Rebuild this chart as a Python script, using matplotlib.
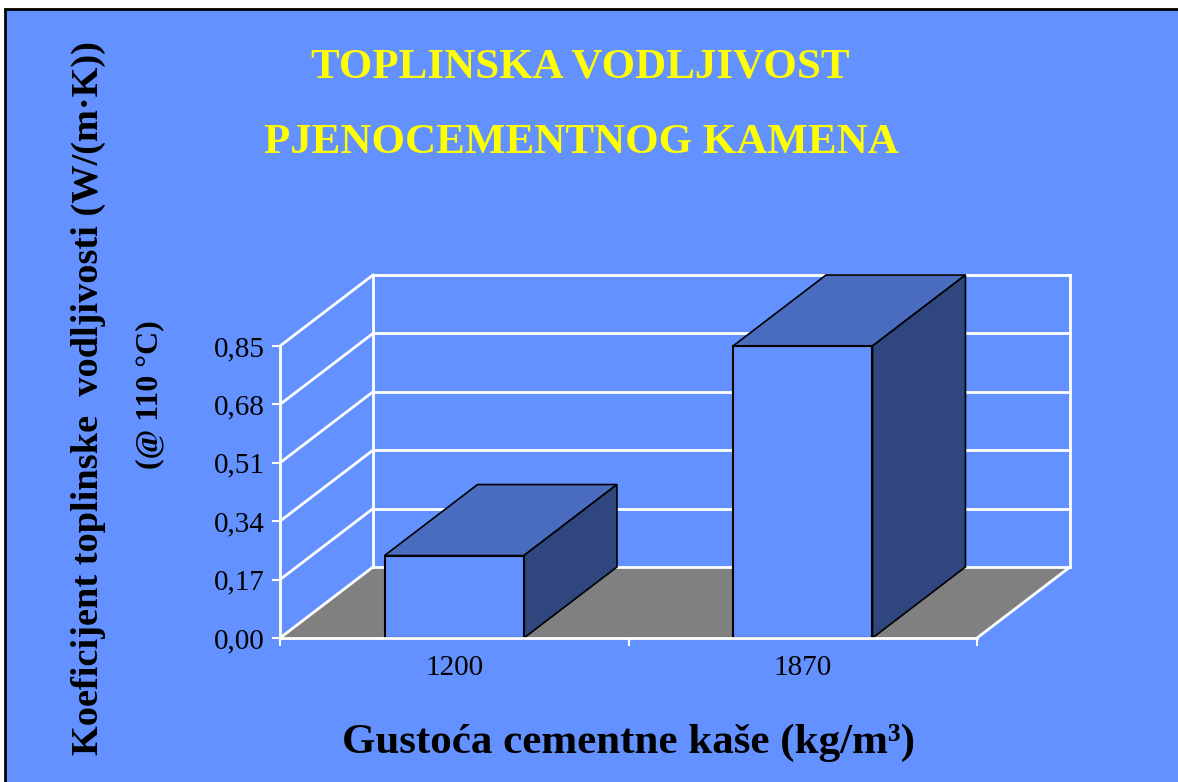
import matplotlib.pyplot as plt
from matplotlib.patches import Polygon, Rectangle
import numpy as np

# data
categories = ['1200', '1870']
values = [0.24, 0.85]
yticks = [0.00, 0.17, 0.34, 0.51, 0.68, 0.85]

BG = '#6391FF'
TOP = '#4A6CBE'
SIDE = '#30467F'
FLOOR = '#808080'

W, H = 1178, 782
fig = plt.figure(figsize=(W / 100, H / 100), dpi=100, facecolor='white')
plt.rcParams['font.family'] = ['Liberation Serif', 'DejaVu Serif']

# blue panel with black top/left border
fig.patches.append(Rectangle((5 / W, -0.01), 1.1, 1 - 9 / H + 0.01, transform=fig.transFigure,
                             facecolor=BG, edgecolor='black', linewidth=2, zorder=-5))

# axes = front plane of the 3D box
ax = fig.add_axes([280 / W, (H - 638) / H, 697 / W, 292 / H])
ax.patch.set_visible(False)
ax.set_xlim(0, 2)
ax.set_ylim(0, 0.85)

# depth offset in data units
dx, dy = 93 / 348.5, 71 / 343.5
ymax = yticks[-1]

# floor
ax.add_patch(Polygon([(0, 0), (2, 0), (2 + dx, dy), (dx, dy)], closed=True,
                     facecolor=FLOOR, edgecolor='none', clip_on=False, zorder=1))
ax.plot([0, dx], [0, dy], color='white', lw=2, clip_on=False, zorder=2)
ax.plot([2, 2 + dx], [0, dy], color='white', lw=2, clip_on=False, zorder=2)

# gridlines on side and back walls
for v in yticks:
    if v > 0:
        ax.plot([0, dx], [v, v + dy], color='white', lw=2, clip_on=False, zorder=2)
    ax.plot([dx, 2 + dx], [v + dy, v + dy], color='white', lw=2, clip_on=False, zorder=2)
ax.plot([dx, dx], [dy, ymax + dy], color='white', lw=2, clip_on=False, zorder=2)
ax.plot([2 + dx, 2 + dx], [dy, ymax + dy], color='white', lw=2, clip_on=False, zorder=2)

# bars
xpos = np.arange(len(categories)) + 0.5
bw = 0.4
ax.bar(xpos, values, width=bw, color=BG, edgecolor='black', linewidth=1.5, zorder=5, clip_on=False)
for x, v in zip(xpos, values):
    x0, x1 = x - bw / 2, x + bw / 2
    ax.add_patch(Polygon([(x0, v), (x1, v), (x1 + dx, v + dy), (x0 + dx, v + dy)], closed=True,
                         facecolor=TOP, edgecolor='black', linewidth=1.2, clip_on=False, zorder=4))
    ax.add_patch(Polygon([(x1, 0), (x1 + dx, dy), (x1 + dx, v + dy), (x1, v)], closed=True,
                         facecolor=SIDE, edgecolor='black', linewidth=1.2, clip_on=False, zorder=4))

# axes styling
for s in ['top', 'right']:
    ax.spines[s].set_visible(False)
for s in ['left', 'bottom']:
    ax.spines[s].set_color('white')
    ax.spines[s].set_linewidth(2)
    ax.spines[s].set_zorder(6)
ax.set_yticks(yticks)
ax.set_yticklabels(['{:.2f}'.format(v).replace('.', ',') for v in yticks])
ax.tick_params(axis='y', colors='white', labelcolor='black', length=6, width=1.5,
               direction='out', pad=5, labelsize=21)
ax.set_xticks(xpos)
ax.set_xticklabels(categories)
ax.tick_params(axis='x', which='major', length=0, pad=12, labelsize=21, labelcolor='black')
ax.set_xticks([0, 1, 2], minor=True)
ax.tick_params(axis='x', which='minor', colors='white', length=6, width=1.5, direction='out')

# titles and labels
fig.text(580 / W, 1 - 68 / H, 'TOPLINSKA VODLJIVOST', color='#FFFF00', fontsize=31,
         fontweight='bold', ha='center', va='center')
fig.text(581 / W, 1 - 143 / H, 'PJENOCEMENTNOG KAMENA', color='#FFFF00', fontsize=31,
         fontweight='bold', ha='center', va='center')
fig.text(628 / W, 1 - 743 / H, 'Gustoća cementne kaše (kg/m³)', color='black', fontsize=31,
         fontweight='bold', ha='center', va='center')
fig.text(88 / W, 1 - 398 / H, 'Koeficijent toplinske  vodljivosti (W/(m·K))', color='black',
         fontsize=27.6, fontweight='bold', ha='center', va='center', rotation=90)
fig.text(150 / W, 1 - 395 / H, '(@ 110 °C)', color='black', fontsize=23,
         fontweight='bold', ha='center', va='center', rotation=90)

fig.savefig('out.png', dpi=100, facecolor='white')
